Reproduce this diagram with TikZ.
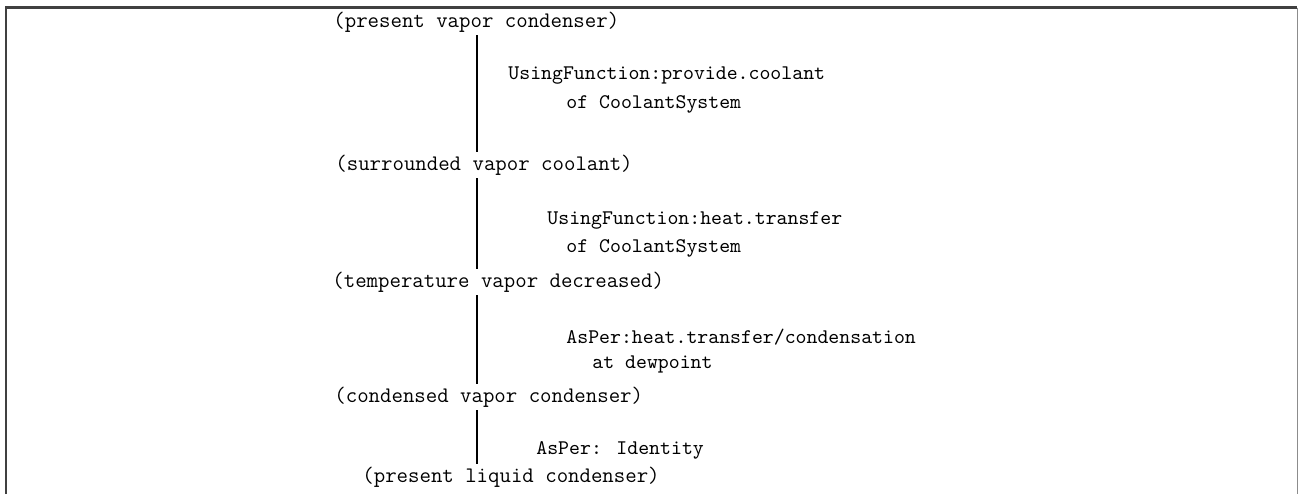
\documentclass[tikz,border=0pt]{standalone}
\usepackage{fontspec}
\begin{document}
\begin{tikzpicture}[x=0.5pt,y=-0.5pt,
  state/.style={anchor=west,inner sep=0pt,minimum height=13pt,
    font=\ttfamily\fontsize{11.1pt}{12pt}\selectfont},
  lab/.style={anchor=west,inner sep=0pt,
    font=\ttfamily\fontsize{10.4pt}{12pt}\selectfont},
  conn/.style={line width=1pt,black},
  frame/.style={line width=1.2pt,black!75}]
\useasboundingbox (0,0) rectangle (1299,494);
\fill[white] (0,0) rectangle (1299,494);
\draw[frame] (6,494) -- (6,7.5) -- (1297,7.5);
\draw[line width=0.6pt,black!45] (1297.5,7.5) -- (1297.5,494);

\coordinate (lx) at (477,0);

\node[state] (s1) at (333,22)  {(present vapor condenser)};
\node[state] (s2) at (335,165) {(surrounded vapor coolant)};
\node[state] (s3) at (332,282) {(temperature vapor decreased)};
\node[state] (s4) at (334,397) {(condensed vapor condenser)};
\node[state] (s5) at (362,477) {(present liquid condenser)};

\node[lab] (l1a) at (508,76)  {UsingFunction:provide.coolant};
\node[lab] (l1b) at (566,104) {of CoolantSystem};
\node[lab] (l2a) at (547,220) {UsingFunction:heat.transfer};
\node[lab] (l2b) at (566,248) {of CoolantSystem};
\node[lab] (l3a) at (566,337) {AsPer:heat.transfer/condensation};
\node[lab] (l3b) at (592,364) {at dewpoint};
\node[lab] (l4a) at (536,450) {AsPer: Identity};

\draw[conn] (s1.south -| lx) -- (s2.north -| lx);
\draw[conn] (s2.south -| lx) -- (s3.north -| lx);
\draw[conn] (s3.south -| lx) -- (s4.north -| lx);
\draw[conn] (s4.south -| lx) -- (s5.north -| lx);
\end{tikzpicture}
\end{document}
